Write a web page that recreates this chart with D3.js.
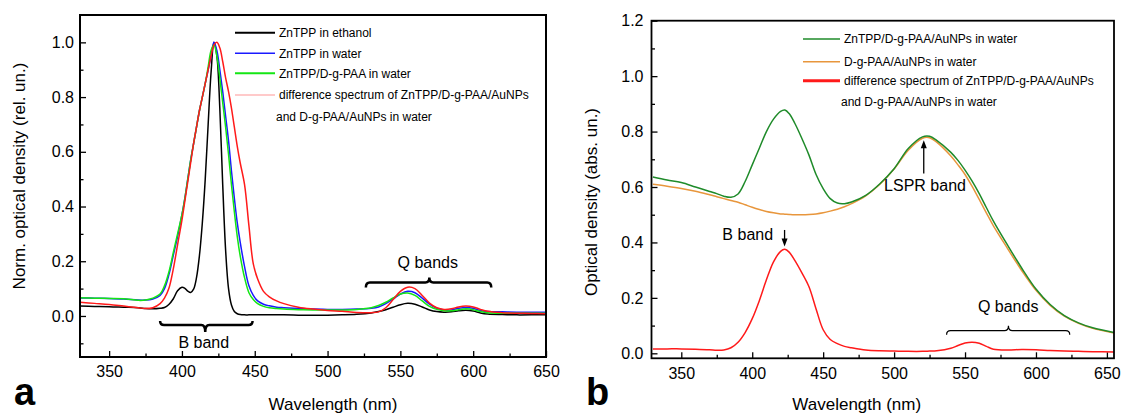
<!DOCTYPE html>
<html>
<head>
<meta charset="utf-8">
<script src="https://cdn.jsdelivr.net/npm/d3@7"></script>
<style>
  body { margin: 0; background: #fff; }
  svg { display: block; }
  text { font-family: Arial, 'Liberation Sans', sans-serif; fill: #000; }
</style>
</head>
<body>
<svg id="chart" width="1124" height="415"></svg>
<script>
// ---- panel a : normalised spectra ----
const waveA = [330, 340, 350, 360, 370, 375, 380, 385, 388, 391, 394, 397, 400, 402, 404, 406, 408, 410, 412, 414,
  416, 418, 420, 422, 424, 426, 428, 430, 432, 434, 436, 438, 440, 443, 446, 449, 452, 456, 460, 465,
  470, 480, 490, 500, 510, 520, 530, 535, 540, 545, 550, 555, 560, 565, 570, 575, 580, 585, 590, 595,
  600, 605, 610, 620, 630, 640, 650];
const ethanolA = [.036, .035, .034, .032, .030, .027, .026, .028, .031, .042, .062, .092, .105, .101, .091, .086, .098, .14, .22, .34,
  .5, .7, .89, 1.0, .95, .76, .48, .24, .1, .04, .016, .008, .005, .004, .004, .004, .004, .004, .004, .004,
  .004, .003, .003, .003, .004, .006, .011, .016, .023, .032, .041, .046, .043, .033, .022, .016, .014, .015, .019, .021,
  .018, .011, .007, .005, .004, .004, .004];
const waterA = [.066, .065, .064, .062, .058, .058, .062, .075, .1, .15, .22, .29, .37, .43, .5, .57, .63, .69, .75, .8,
  .85, .9, .95, 1.0, .97, .9, .82, .73, .64, .53, .43, .34, .27, .18, .11, .075, .055, .043, .037, .032,
  .03, .027, .025, .024, .024, .025, .028, .033, .045, .062, .08, .09, .085, .065, .043, .028, .022, .022, .028, .031,
  .028, .02, .016, .015, .014, .014, .014];
const polymerA = [.067, .065, .064, .063, .057, .058, .065, .08, .11, .16, .23, .3, .37, .43, .5, .57, .63, .69, .75, .8,
  .85, .91, .97, .99, .95, .87, .78, .69, .59, .48, .38, .29, .22, .14, .085, .06, .045, .035, .03, .027,
  .025, .023, .022, .022, .022, .024, .03, .038, .05, .066, .08, .084, .075, .055, .035, .024, .019, .019, .023, .026,
  .023, .016, .012, .01, .01, .01, .01];
const diffA = [.05, .046, .042, .036, .03, .027, .03, .045, .065, .1, .17, .26, .35, .42, .49, .56, .63, .69, .75, .8,
  .85, .9, .95, .99, 1.0, .98, .93, .87, .82, .76, .69, .62, .56, .48, .33, .19, .135, .09, .07, .055,
  .045, .032, .025, .02, .017, .013, .012, .015, .03, .06, .09, .105, .1, .075, .047, .03, .024, .026, .033, .036,
  .033, .024, .017, .012, .01, .009, .008];
const labelsA = ['ZnTPP in ethanol', 'ZnTPP in water', 'ZnTPP/D-g-PAA in water',
  'difference spectrum of ZnTPP/D-g-PAA/AuNPs', 'and D-g-PAA/AuNPs in water'];

// ---- panel b : absolute spectra ----
const waveB = [330, 340, 350, 360, 370, 375, 380, 385, 390, 395, 400, 405, 410, 415, 420, 423, 426, 430, 435, 440,
  445, 450, 455, 460, 465, 470, 480, 490, 500, 510, 520, 525, 530, 540, 545, 550, 555, 560, 565, 570,
  580, 590, 600, 610, 620, 630, 640, 655];
const hybridB = [.636, .625, .616, .6, .584, .576, .567, .563, .575, .62, .68, .74, .8, .845, .873, .878, .865, .83, .775, .715,
  .645, .594, .558, .542, .54, .546, .57, .612, .666, .739, .781, .783, .768, .725, .696, .661, .621, .576, .526, .477,
  .39, .307, .232, .176, .136, .11, .092, .075];
const goldB = [.61, .603, .595, .585, .572, .565, .558, .551, .545, .536, .527, .519, .512, .507, .503, .502, .501, .5, .5, .501,
  .503, .507, .513, .52, .529, .54, .568, .61, .665, .733, .776, .778, .762, .712, .68, .645, .602, .555, .507, .46,
  .378, .298, .227, .173, .134, .108, .09, .073];
const diffB = [.016, .016, .016, .015, .013, .011, .012, .02, .04, .075, .125, .19, .265, .33, .368, .375, .365, .335, .29, .24,
  .16, .085, .05, .035, .025, .02, .012, .009, .008, .007, .007, .008, .009, .018, .028, .037, .04, .036, .025, .015,
  .012, .014, .013, .01, .008, .007, .006, .005];
const labelsB = ['ZnTPP/D-g-PAA/AuNPs in water', 'D-g-PAA/AuNPs in water',
  'difference spectrum of ZnTPP/D-g-PAA/AuNPs', 'and D-g-PAA/AuNPs in water'];

const xMajor = [350, 400, 450, 500, 550, 600, 650];
const xMinor = [375, 425, 475, 525, 575, 625];

const svg = d3.select('#chart');
const fmt1 = d3.format('.1f');

function drawPanel(cfg) {
  const g = svg.append('g');
  const x = d3.scaleLinear().domain(cfg.xDomain).range([cfg.left, cfg.right]);
  const y = d3.scaleLinear().domain(cfg.yDomain).range([cfg.bottom, cfg.top]);

  g.append('clipPath').attr('id', cfg.id + '-clip')
    .append('rect')
    .attr('x', cfg.left).attr('y', cfg.top)
    .attr('width', cfg.right - cfg.left).attr('height', cfg.bottom - cfg.top);

  // axes, ticks pointing inward
  const styleAxis = sel => {
    sel.select('.domain').remove();
    sel.selectAll('line').attr('stroke', '#000').attr('stroke-width', 1.3);
    sel.selectAll('text').attr('font-size', 16).attr('font-family', null);
  };
  g.append('g').attr('transform', `translate(0,${cfg.bottom})`)
    .call(d3.axisBottom(x).tickValues(xMajor).tickSize(-6).tickPadding(9).tickFormat(d3.format('d')))
    .call(styleAxis);
  g.append('g').attr('transform', `translate(0,${cfg.bottom})`)
    .call(d3.axisBottom(x).tickValues(xMinor).tickSize(-3.5).tickFormat(''))
    .call(styleAxis);
  g.append('g').attr('transform', `translate(${cfg.left},0)`)
    .call(d3.axisLeft(y).tickValues(cfg.yMajor).tickSize(-6).tickPadding(cfg.yPad).tickFormat(fmt1))
    .call(styleAxis);
  g.append('g').attr('transform', `translate(${cfg.left},0)`)
    .call(d3.axisLeft(y).tickValues(cfg.yMinor).tickSize(-3.5).tickFormat(''))
    .call(styleAxis);

  const line = d3.line()
    .x(d => x(d[0])).y(d => y(d[1]))
    .curve(d3.curveCatmullRom.alpha(0.5));

  const plot = g.append('g').attr('clip-path', `url(#${cfg.id}-clip)`);
  cfg.series.forEach(s => {
    plot.append('path')
      .datum(cfg.wave.map((w, i) => [w, s.values[i]]))
      .attr('fill', 'none')
      .attr('stroke', s.color)
      .attr('stroke-width', s.width)
      .attr('stroke-linejoin', 'round')
      .attr('d', line);
  });

  g.append('rect')
    .attr('x', cfg.left).attr('y', cfg.top)
    .attr('width', cfg.right - cfg.left).attr('height', cfg.bottom - cfg.top)
    .attr('fill', 'none').attr('stroke', '#000').attr('stroke-width', cfg.frame);

  // axis titles and panel letter
  g.append('text')
    .attr('x', (cfg.left + cfg.right) / 2 - cfg.xTitleShift).attr('y', 410)
    .attr('text-anchor', 'middle').attr('font-size', 17)
    .text('Wavelength (nm)');
  g.append('text')
    .attr('transform', `translate(${cfg.yTitleX},${cfg.yTitleY}) rotate(-90)`)
    .attr('text-anchor', 'middle').attr('font-size', 17)
    .text(cfg.yTitle);
  g.append('text')
    .attr('x', cfg.letterX).attr('y', 405)
    .attr('font-size', 38).attr('font-weight', 'bold')
    .text(cfg.letter);

  // legend
  cfg.legend.forEach((it, i) => {
    if (it.color) {
      g.append('line')
        .attr('x1', cfg.legendX).attr('x2', cfg.legendX + cfg.legendLen)
        .attr('y1', cfg.legendRows[i]).attr('y2', cfg.legendRows[i])
        .attr('stroke', it.color).attr('stroke-width', it.width);
    }
    g.append('text')
      .attr('x', it.color ? cfg.legendX + cfg.legendLen + 4 : cfg.legendX + cfg.legendLen + 1)
      .attr('y', cfg.legendRows[i]).attr('dy', '0.35em')
      .attr('font-size', 12)
      .text(it.label);
  });

  return { g, x, y };
}

// curly bracket: tip > 0 points up, < 0 points down
function brace(p, from, to, mid, level, tip, hook, width) {
  const x0 = p.x(from), x1 = p.x(to), xm = p.x(mid), yy = p.y(level);
  const d = `M${x0},${yy + hook} Q${x0},${yy} ${x0 + 4},${yy} L${xm - 4},${yy} Q${xm},${yy} ${xm},${yy - tip}` +
    ` Q${xm},${yy} ${xm + 4},${yy} L${x1 - 4},${yy} Q${x1},${yy} ${x1},${yy + hook}`;
  p.g.append('path').attr('d', d).attr('fill', 'none')
    .attr('stroke', '#000').attr('stroke-width', width);
}

function label(p, wl, val, txt, anchor) {
  p.g.append('text').attr('x', p.x(wl)).attr('y', p.y(val))
    .attr('text-anchor', anchor).attr('font-size', 16).text(txt);
}

function arrow(p, wl, fromVal, toVal) {
  const x = p.x(wl), y0 = p.y(fromVal), y1 = p.y(toVal);
  const dir = y1 < y0 ? 1 : -1;
  p.g.append('line').attr('x1', x).attr('x2', x).attr('y1', y0).attr('y2', y1 + dir * 6)
    .attr('stroke', '#000').attr('stroke-width', 1.3);
  p.g.append('path')
    .attr('d', `M${x},${y1} L${x - 3},${y1 + dir * 8} L${x + 3},${y1 + dir * 8} Z`)
    .attr('fill', '#000');
}

const pa = drawPanel({
  id: 'pa', left: 80, right: 546, top: 15, bottom: 357,
  xDomain: [330, 650], yDomain: [-0.15, 1.1],
  yMajor: [0, 0.2, 0.4, 0.6, 0.8, 1.0], yMinor: [-0.1, 0.1, 0.3, 0.5, 0.7, 0.9],
  yPad: 6, frame: 2,
  wave: waveA,
  series: [
    { values: ethanolA, color: '#000000', width: 1.5 },
    { values: waterA, color: '#1a1aff', width: 1.5 },
    { values: polymerA, color: '#14e614', width: 1.5 },
    { values: diffA, color: '#ff1a1a', width: 1.5 }
  ],
  legendX: 235, legendLen: 40, legendRows: [32.7, 53.3, 73.3, 95, 116.7],
  legend: [
    { label: labelsA[0], color: '#000', width: 2 },
    { label: labelsA[1], color: '#1a1aff', width: 1.5 },
    { label: labelsA[2], color: '#14e614', width: 2 },
    { label: labelsA[3], color: '#ffb8b8', width: 1.5 },
    { label: labelsA[4], color: null }
  ],
  xTitleShift: -20, yTitleX: 25, yTitleY: 176,
  yTitle: 'Norm. optical density (rel. un.)',
  letter: 'a', letterX: 14
});

const pb = drawPanel({
  id: 'pb', left: 651.5, right: 1114, top: 20.7, bottom: 358.3,
  xDomain: [329, 655], yDomain: [-0.018, 1.2],
  yMajor: [0, 0.2, 0.4, 0.6, 0.8, 1.0, 1.2], yMinor: [0.1, 0.3, 0.5, 0.7, 0.9, 1.1],
  yPad: 8, frame: 1.8,
  wave: waveB,
  series: [
    { values: goldB, color: '#e8963c', width: 1.5 },
    { values: hybridB, color: '#1f8b2a', width: 1.5 },
    { values: diffB, color: '#ff1a1a', width: 1.5 }
  ],
  legendX: 803, legendLen: 37, legendRows: [39, 61.7, 80.7, 101.7],
  legend: [
    { label: labelsB[0], color: '#1f8b2a', width: 1.5 },
    { label: labelsB[1], color: '#e8963c', width: 1.5 },
    { label: labelsB[2], color: '#ff1a1a', width: 3 },
    { label: labelsB[3], color: null }
  ],
  xTitleShift: 26, yTitleX: 597, yTitleY: 202,
  yTitle: 'Optical density (abs. un.)',
  letter: 'b', letterX: 586
});

// annotations, panel a
brace(pa, 385, 448.5, 416, -0.033, -7, -4, 2.5);
label(pa, 415, -0.118, 'B band', 'middle');
brace(pa, 526.3, 612.4, 569.9, 0.122, 5, 5, 2.5);
label(pa, 568.8, 0.174, 'Q bands', 'middle');

// annotations, panel b
arrow(pb, 520.9, 0.649, 0.769);
label(pb, 521.8, 0.587, 'LSPR band', 'middle');
arrow(pb, 422.8, 0.445, 0.385);
label(pb, 414.7, 0.409, 'B band', 'end');
brace(pb, 537, 623.8, 580.6, 0.0815, 5, 4, 1.2);
label(pb, 580.4, 0.15, 'Q bands', 'middle');
</script>
</body>
</html>
